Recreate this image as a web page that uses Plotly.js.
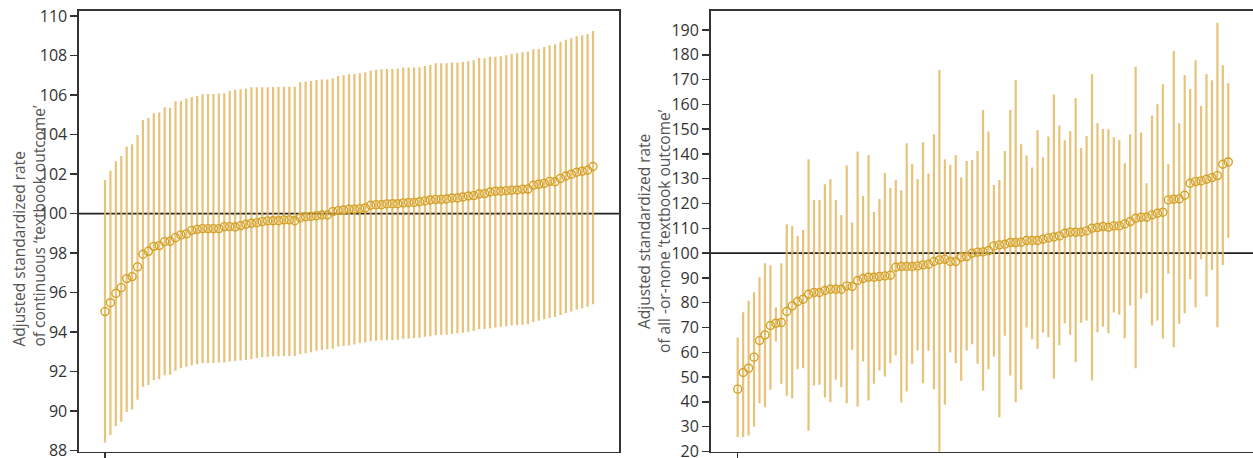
<!DOCTYPE html>
<html>
<head>
<meta charset="utf-8">
<script src="https://cdn.plot.ly/plotly-3.0.1.min.js"></script>
<style>
  html, body { margin: 0; padding: 0; background: #fff; overflow: hidden; }
  #chart { width: 1253px; height: 458px; }
</style>
</head>
<body>
<div id="chart"></div>
<script>
// ---- Data: hospitals ranked by adjusted standardized rate ----
// Left panel: continuous 'textbook outcome'
const leftCenter = [
  95.04, 95.49, 95.96, 96.25, 96.71, 96.81, 97.30, 97.94, 98.09, 98.34,
  98.38, 98.58, 98.60, 98.78, 98.92, 98.97, 99.15, 99.20, 99.24, 99.24,
  99.24, 99.24, 99.34, 99.34, 99.32, 99.39, 99.46, 99.51, 99.54, 99.59,
  99.63, 99.64, 99.64, 99.68, 99.68, 99.64, 99.79, 99.84, 99.86, 99.89,
  99.93, 99.93, 100.10, 100.15, 100.18, 100.22, 100.22, 100.25, 100.28, 100.42,
  100.45, 100.45, 100.49, 100.50, 100.50, 100.54, 100.56, 100.56, 100.60, 100.64,
  100.69, 100.72, 100.72, 100.74, 100.79, 100.79, 100.84, 100.89, 100.91, 100.99,
  101.01, 101.09, 101.13, 101.13, 101.16, 101.18, 101.19, 101.23, 101.24, 101.43,
  101.48, 101.53, 101.63, 101.61, 101.78, 101.90, 101.99, 102.09, 102.14, 102.19,
  102.38
];
const leftUpper = [
  101.70, 102.17, 102.65, 102.91, 103.39, 103.51, 103.98, 104.74, 104.84, 105.07,
  105.11, 105.38, 105.36, 105.68, 105.70, 105.82, 105.90, 105.95, 106.04, 106.05,
  106.05, 106.07, 106.09, 106.20, 106.26, 106.29, 106.32, 106.39, 106.39, 106.39,
  106.39, 106.41, 106.41, 106.42, 106.42, 106.42, 106.66, 106.68, 106.71, 106.76,
  106.79, 106.79, 106.85, 106.96, 107.00, 107.05, 107.06, 107.10, 107.15, 107.23,
  107.28, 107.30, 107.31, 107.31, 107.33, 107.39, 107.39, 107.39, 107.40, 107.47,
  107.52, 107.60, 107.60, 107.60, 107.64, 107.64, 107.67, 107.71, 107.76, 107.87,
  107.86, 107.94, 107.94, 107.96, 108.01, 108.08, 108.11, 108.16, 108.19, 108.31,
  108.33, 108.43, 108.52, 108.57, 108.68, 108.79, 108.87, 108.97, 109.02, 109.07,
  109.24
];
const leftLower = [
  88.41, 88.80, 89.25, 89.47, 89.96, 90.09, 90.58, 91.24, 91.33, 91.58,
  91.61, 91.82, 91.85, 92.05, 92.17, 92.25, 92.32, 92.37, 92.42, 92.44,
  92.44, 92.46, 92.46, 92.52, 92.54, 92.57, 92.59, 92.64, 92.69, 92.73,
  92.76, 92.78, 92.78, 92.79, 92.79, 92.79, 92.89, 92.93, 92.98, 93.06,
  93.10, 93.13, 93.16, 93.27, 93.30, 93.33, 93.38, 93.45, 93.49, 93.54,
  93.57, 93.59, 93.59, 93.59, 93.62, 93.67, 93.67, 93.69, 93.71, 93.77,
  93.79, 93.84, 93.87, 93.87, 93.91, 93.94, 93.97, 94.01, 94.06, 94.14,
  94.16, 94.19, 94.23, 94.26, 94.29, 94.33, 94.36, 94.36, 94.40, 94.51,
  94.58, 94.65, 94.72, 94.77, 94.87, 94.97, 95.05, 95.14, 95.21, 95.29,
  95.41
];

// Right panel: all-or-none 'textbook outcome'
const rightCenter = [
  45.13, 51.85, 53.59, 58.03, 64.75, 67.03, 70.80, 71.74, 72.01, 76.44,
  78.73, 80.47, 81.41, 83.43, 84.10, 84.10, 84.91, 85.44, 85.44, 85.44,
  86.79, 86.52, 88.94, 89.74, 90.28, 90.28, 90.55, 90.82, 91.09, 94.31,
  94.58, 94.58, 94.58, 94.85, 95.25, 95.52, 96.60, 97.27, 97.54, 96.60,
  96.60, 98.35, 98.61, 99.96, 100.40, 100.50, 101.03, 102.91, 103.32, 103.59,
  104.26, 104.26, 104.39, 105.07, 105.07, 105.07, 105.60, 106.14, 106.54, 106.95,
  108.02, 108.43, 108.43, 108.43, 108.96, 110.04, 110.31, 110.71, 110.44, 110.98,
  110.98, 111.79, 112.73, 114.07, 114.47, 114.47, 115.41, 116.09, 116.49, 121.46,
  121.73, 121.86, 123.34, 128.18, 128.85, 129.12, 129.79, 130.46, 131.27, 135.84,
  136.78
];
const rightUpper = [
  65.96, 76.17, 80.74, 84.23, 90.28, 95.93, 95.12, 78.05, 95.93, 111.65,
  110.98, 106.95, 109.37, 137.86, 121.46, 121.46, 127.78, 129.79, 121.46, 115.41,
  135.30, 112.32, 140.95, 123.07, 139.60, 116.62, 121.86, 132.35, 126.30, 129.52,
  125.36, 144.31, 135.97, 129.93, 144.71, 132.08, 147.94, 173.87, 137.86, 135.57,
  139.47, 130.46, 137.18, 137.59, 141.22, 157.75, 149.01, 127.51, 129.52, 141.22,
  157.75, 169.84, 143.90, 139.33, 134.50, 149.68, 138.66, 147.00, 163.93, 151.43,
  145.52, 149.28, 162.45, 142.43, 147.26, 172.13, 152.37, 150.09, 149.95, 146.73,
  145.65, 136.24, 147.94, 175.22, 148.61, 128.18, 155.46, 160.03, 168.09, 135.97,
  181.53, 152.37, 171.86, 166.21, 177.77, 159.36, 172.26, 169.71, 192.96, 175.75,
  168.50
];
const rightLower = [
  25.78, 25.78, 26.45, 29.94, 39.48, 37.87, 44.86, 64.35, 47.28, 42.44,
  41.50, 53.19, 53.59, 28.33, 46.60, 46.87, 41.77, 39.89, 48.89, 45.93,
  39.48, 60.99, 38.14, 56.28, 40.56, 47.28, 52.65, 50.23, 55.61, 58.83,
  39.75, 44.19, 55.21, 60.72, 47.55, 60.58, 45.13, 19.00, 38.81, 59.91,
  55.61, 48.49, 60.72, 63.27, 55.34, 44.59, 53.19, 58.30, 33.84, 66.63,
  50.64, 39.89, 44.86, 69.99, 65.29, 61.39, 67.97, 66.09, 49.29, 62.87,
  71.74, 67.03, 56.01, 71.87, 72.81, 48.62, 68.11, 70.39, 67.70, 76.04,
  75.10, 65.69, 78.86, 53.59, 81.68, 83.83, 70.80, 72.81, 65.55, 91.63,
  62.06, 71.47, 75.77, 89.48, 78.19, 97.54, 82.49, 93.24, 70.12, 95.25,
  106.14
];

const leftTicks = [88, 90, 92, 94, 96, 98, 100, 102, 104, 106, 108, 110];
const rightTicks = [20, 30, 40, 50, 60, 70, 80, 90, 100, 110, 120, 130, 140, 150, 160, 170, 180, 190];
const referenceValue = 100;
const leftTitle = "Adjusted standardized rate<br>of continuous \u2018textbook outcome\u2019";
const rightTitle = "Adjusted standardized rate<br>of all -or-none \u2018textbook outcome\u2019";

// hospital rank (category index)
const rank = leftCenter.map((_, i) => i + 1);

// ---- Styling ----
const W = 1253, H = 458;
const markerColor = '#d5a126';
const barColor = 'rgba(226,184,96,0.85)';
const axisColor = '#333333';
const fontFam = '"Open Sans", "Noto Sans", sans-serif';

function trace(center, upper, lower, xa, ya) {
  return {
    type: 'scatter', mode: 'markers',
    x: rank, y: center, xaxis: xa, yaxis: ya,
    marker: { symbol: 'circle-open', size: 8, color: markerColor, line: { width: 1.4, color: markerColor } },
    error_y: {
      type: 'data', symmetric: false,
      array: upper.map((u, i) => u - center[i]),
      arrayminus: lower.map((l, i) => center[i] - l),
      color: barColor, thickness: 2.2, width: 0
    },
    hoverinfo: 'x+y'
  };
}

const yTop = 1 - 11 / H, yBot = 1 - 451.7 / H;
const baseX = {
  showgrid: false, zeroline: false, showline: true, linecolor: axisColor, linewidth: 1.6,
  mirror: true, ticks: 'outside', ticklen: 7, tickwidth: 1.5, tickcolor: axisColor,
  tickmode: 'array', tickvals: [1], ticktext: [''], fixedrange: true
};
const baseY = {
  showgrid: false, zeroline: false, showline: true, linecolor: axisColor, linewidth: 1.6,
  mirror: true, ticks: 'outside', ticklen: 7, tickwidth: 1.5, tickcolor: axisColor,
  ticklabeloverflow: 'allow',
  tickmode: 'array', tickfont: { family: fontFam, size: 16, color: '#333' }, fixedrange: true
};

const layout = {
  width: W, height: H,
  margin: { l: 0, r: 0, t: 0, b: 0 },
  paper_bgcolor: '#ffffff', plot_bgcolor: '#ffffff',
  showlegend: false,
  font: { family: fontFam, color: '#333' },
  xaxis: Object.assign({}, baseX, { domain: [79 / W, 619 / W], range: [-3.795, 95.795], anchor: 'y' }),
  yaxis: Object.assign({}, baseY, { domain: [yBot, yTop], range: [87.95, 110.25], tickvals: leftTicks, anchor: 'x' }),
  xaxis2: Object.assign({}, baseX, { domain: [710.7 / W, 1], range: [-3.953, 95.53], anchor: 'y2' }),
  yaxis2: Object.assign({}, baseY, { domain: [yBot, yTop], range: [19.9, 197.66], tickvals: rightTicks, anchor: 'x2' }),
  shapes: [
    { type: 'line', layer: 'below', xref: 'x domain', yref: 'y', x0: 0, x1: 1, y0: referenceValue, y1: referenceValue, line: { color: '#222', width: 1.7 } },
    { type: 'line', layer: 'below', xref: 'x2 domain', yref: 'y2', x0: 0, x1: 1, y0: referenceValue, y1: referenceValue, line: { color: '#222', width: 1.7 } }
  ],
  annotations: [
    { text: leftTitle, xref: 'paper', yref: 'paper', x: 28 / W, y: 1 - 349 / H, xanchor: 'center', yanchor: 'bottom',
      textangle: -90, align: 'left', showarrow: false, font: { family: fontFam, size: 15.5, color: '#555' } },
    { text: rightTitle, xref: 'paper', yref: 'paper', x: 654 / W, y: 1 - 231 / H, xanchor: 'center', yanchor: 'middle',
      textangle: -90, align: 'center', showarrow: false, font: { family: fontFam, size: 15.5, color: '#555' } }
  ]
};

Plotly.newPlot('chart', [
  trace(leftCenter, leftUpper, leftLower, 'x', 'y'),
  trace(rightCenter, rightUpper, rightLower, 'x2', 'y2')
], layout, { displayModeBar: false, staticPlot: true });
</script>
</body>
</html>
